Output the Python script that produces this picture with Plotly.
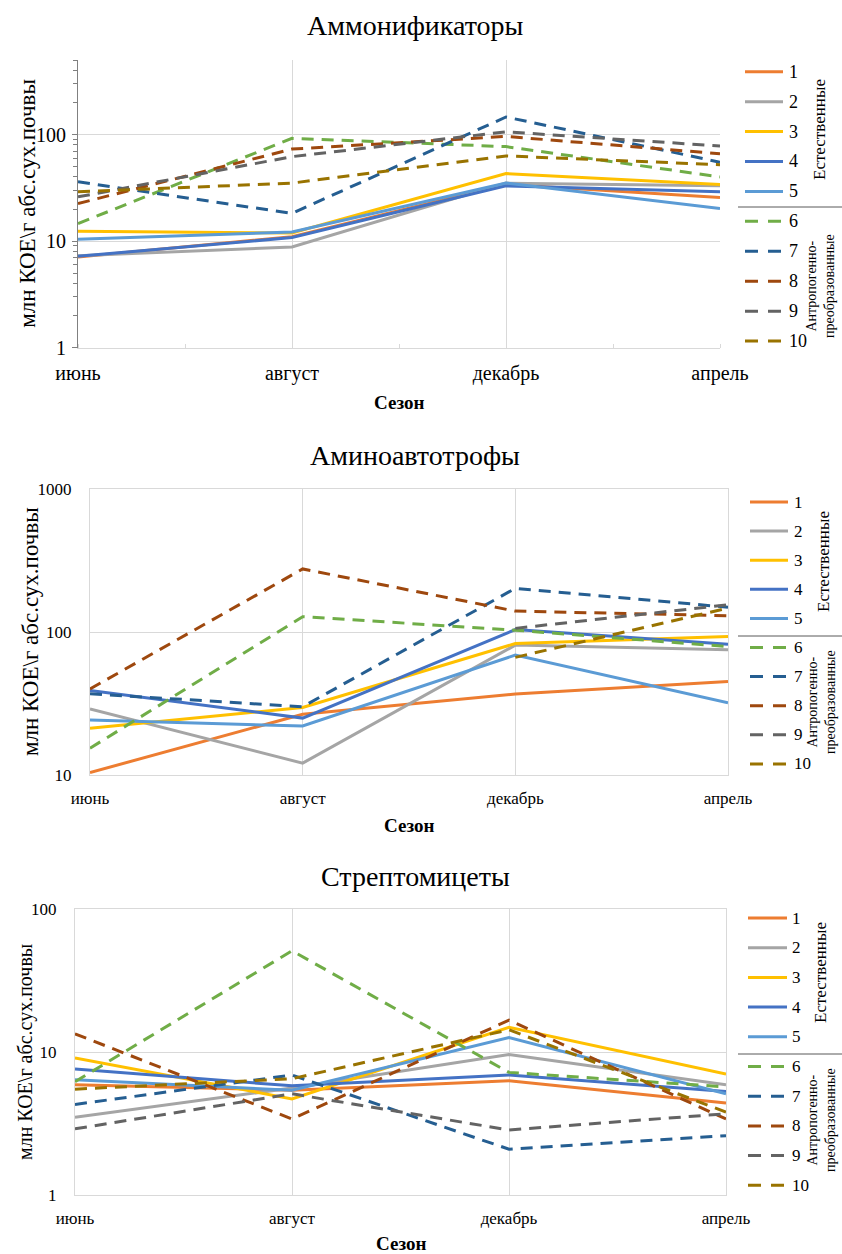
import math
import plotly.graph_objects as go

W, H = 842, 1254
FONT = "Liberation Serif, 'Times New Roman', 'DejaVu Serif', serif"

SEASONS = ["июнь", "август", "декабрь", "апрель"]
SERIES = ["1", "2", "3", "4", "5", "6", "7", "8", "9", "10"]
COLORS = ["#ED7D31", "#A5A5A5", "#FFC000", "#4472C4", "#5B9BD5",
          "#70AD47", "#255E91", "#9E480E", "#636363", "#997300"]
DASHED = [False] * 5 + [True] * 5

# Аммонификаторы, млн КОЕ/г
ammon_1 = [7.1, 11.0, 34, 25.7]
ammon_2 = [7.3, 8.8, 35, 33]
ammon_3 = [12.4, 11.9, 43, 34]
ammon_4 = [7.2, 10.8, 33, 29]
ammon_5 = [10.4, 12.2, 35, 20.2]
ammon_6 = [14.6, 92, 77, 40]
ammon_7 = [36, 18.2, 146, 55]
ammon_8 = [22.5, 73, 96, 66]
ammon_9 = [26, 62, 106, 78]
ammon_10 = [29, 35, 63, 52]

# Аминоавтотрофы
amino_1 = [10.4, 26.6, 36.8, 45]
amino_2 = [29, 12.1, 81, 75]
amino_3 = [21.2, 29.7, 83, 93]
amino_4 = [39, 25, 104, 82]
amino_5 = [24.2, 22, 69, 32]
amino_6 = [15.4, 128, 103, 79]
amino_7 = [37, 30, 202, 149]
amino_8 = [40, 276, 140, 130]
amino_9 = [None, None, 106, 155]
amino_10 = [None, None, 66.5, 147]

# Стрептомицеты
strep_1 = [5.9, 5.4, 6.3, 4.4]
strep_2 = [3.5, 5.6, 9.6, 5.9]
strep_3 = [9.1, 4.7, 14.9, 7.0]
strep_4 = [7.6, 5.8, 6.9, 5.3]
strep_5 = [6.4, 5.4, 12.6, 5.1]
strep_6 = [6.2, 51, 7.2, 5.7]
strep_7 = [4.3, 6.9, 2.09, 2.6]
strep_8 = [13.4, 3.4, 16.7, 3.4]
strep_9 = [2.9, 5.1, 2.85, 3.7]
strep_10 = [5.5, 6.5, 14.3, 3.8]

AMMON = [ammon_1, ammon_2, ammon_3, ammon_4, ammon_5,
         ammon_6, ammon_7, ammon_8, ammon_9, ammon_10]
AMINO = [amino_1, amino_2, amino_3, amino_4, amino_5,
         amino_6, amino_7, amino_8, amino_9, amino_10]
STREP = [strep_1, strep_2, strep_3, strep_4, strep_5,
         strep_6, strep_7, strep_8, strep_9, strep_10]

TITLES = ["Аммонификаторы", "Аминоавтотрофы", "Стрептомицеты"]
Y_TITLE = "млн КОЕ\\г абс.сух.почвы"
X_TITLE = "Сезон"
GROUP_NAT = "Естественные"
GROUP_ANT = "Антропогенно-<br>преобразованные"

DASH = "12px,8px"
GRID = "#D9D9D9"


def px(x):
    return x / W


def py(y):
    return 1 - y / H


# pixel geometry of each panel: left, right, top, bottom
PANELS = [
    dict(l=78, r=720, t=60, b=347.7, yr=[0, math.log10(500)], tickfs=20,
         ytfs=23, ytx=28, title_y=25, xlab_gap=7, xt_y=402,
         leg=dict(y0=71.7, step=29.93, x0=745, x1=783, xt=787, fs=18,
                  sep=207, nat=(819, 130), ant=(820, 286))),
    dict(l=90, r=728, t=489, b=775, yr=[1, 3], tickfs=17,
         ytfs=23, ytx=30, title_y=455, xlab_gap=8, xt_y=825,
         leg=dict(y0=502, step=29.1, x0=750, x1=788, xt=792, fs=17,
                  sep=636, nat=(823, 562), ant=(821, 702))),
    dict(l=75, r=726, t=909, b=1195, yr=[0, 2], tickfs=17,
         ytfs=20, ytx=25, title_y=876, xlab_gap=8, xt_y=1243,
         leg=dict(y0=918, step=29.7, x0=748, x1=787, xt=790, fs=17,
                  sep=1054, nat=(820, 973), ant=(821, 1120))),
]
DATASETS = [AMMON, AMINO, STREP]

fig = go.Figure()
shapes, annotations = [], []
xpos = list(range(len(SEASONS)))

for k, (p, data) in enumerate(zip(PANELS, DATASETS)):
    sfx = "" if k == 0 else str(k + 1)
    for i, vals in enumerate(data):
        fig.add_trace(go.Scatter(
            x=xpos, y=vals, mode="lines", name=SERIES[i], showlegend=False,
            line=dict(color=COLORS[i], width=3,
                      dash=DASH if DASHED[i] else "solid"),
            xaxis="x" + sfx, yaxis="y" + sfx, connectgaps=False,
        ))

    boxed = k > 0
    xa = dict(
        domain=[px(p["l"]), px(p["r"])], anchor="y" + sfx, automargin=False,
        range=[0, 3], tickvals=xpos, ticktext=SEASONS,
        showgrid=True, gridcolor=GRID, gridwidth=1, zeroline=False,
        showline=True, linecolor=GRID, linewidth=1, mirror=boxed,
        ticks="", ticklabelstandoff=p["xlab_gap"],
        tickfont=dict(family=FONT, size=p["tickfs"], color="#000000"),
    )
    if not boxed:
        xa["minor"] = dict(ticks="inside", dtick=0.5, tick0=0, ticklen=4,
                           tickcolor=GRID, showgrid=False)
    ya = dict(
        domain=[py(p["b"]), py(p["t"])], anchor="x" + sfx, type="log",
        automargin=False,
        range=p["yr"], showgrid=True, gridcolor=GRID, gridwidth=1,
        zeroline=False, mirror=boxed,
        tickfont=dict(family=FONT, size=p["tickfs"], color="#000000"),
    )
    if boxed:
        ya.update(tickvals=[1, 10, 100, 1000], ticktext=["1", "10", "100", "1000"],
                  showline=True, linecolor=GRID, linewidth=1, ticks="",
                  ticklabelstandoff=14)
    else:
        ya.update(tickvals=[1, 10, 100], ticktext=["1", "10", "100"],
                  showline=True, linecolor="#808080", linewidth=1,
                  ticks="outside", ticklen=5, tickcolor="#808080",
                  ticklabelstandoff=2,
                  minor=dict(ticks="outside", ticklen=4, tickcolor="#808080",
                             tickvals=[2, 3, 4, 5, 6, 7, 8, 9,
                                       20, 30, 40, 50, 60, 70, 80, 90,
                                       200, 300, 400, 500],
                             showgrid=False))
    fig.update_layout({"xaxis" + sfx: xa, "yaxis" + sfx: ya})

    # chart title, axis titles
    annotations.append(dict(
        text=TITLES[k], x=px(415), y=py(p["title_y"]), xref="paper", yref="paper",
        showarrow=False, xanchor="center", yanchor="middle",
        font=dict(family=FONT, size=28, color="#000000")))
    annotations.append(dict(
        text=Y_TITLE, x=px(p["ytx"]), y=py((p["t"] + p["b"]) / 2),
        xref="paper", yref="paper", showarrow=False, textangle=-90,
        xanchor="center", yanchor="middle",
        font=dict(family=FONT, size=p["ytfs"], color="#000000")))
    annotations.append(dict(
        text="<b>" + X_TITLE + "</b>", x=px((p["l"] + p["r"]) / 2), y=py(p["xt_y"]),
        xref="paper", yref="paper", showarrow=False,
        xanchor="center", yanchor="middle",
        font=dict(family=FONT, size=19, color="#000000")))

    # legend
    lg = p["leg"]
    for i in range(len(SERIES)):
        yy = lg["y0"] + i * lg["step"]
        shapes.append(dict(
            type="line", xref="paper", yref="paper",
            x0=px(lg["x0"]), x1=px(lg["x1"]), y0=py(yy), y1=py(yy),
            line=dict(color=COLORS[i], width=3,
                      dash="13px,10px" if DASHED[i] else "solid")))
        annotations.append(dict(
            text=SERIES[i], x=px(lg["xt"]), y=py(yy), xref="paper", yref="paper",
            showarrow=False, xanchor="left", yanchor="middle",
            font=dict(family=FONT, size=lg["fs"], color="#000000")))
    shapes.append(dict(
        type="line", xref="paper", yref="paper",
        x0=px(738), x1=px(842), y0=py(lg["sep"]), y1=py(lg["sep"]),
        line=dict(color="#595959", width=1)))
    annotations.append(dict(
        text=GROUP_NAT, x=px(lg["nat"][0]), y=py(lg["nat"][1]),
        xref="paper", yref="paper", showarrow=False, textangle=-90,
        xanchor="center", yanchor="middle",
        font=dict(family=FONT, size=17, color="#000000")))
    annotations.append(dict(
        text=GROUP_ANT, x=px(lg["ant"][0]), y=py(lg["ant"][1]),
        xref="paper", yref="paper", showarrow=False, textangle=-90,
        xanchor="center", yanchor="middle",
        font=dict(family=FONT, size=14, color="#000000")))

fig.update_layout(
    template="none",
    width=W, height=H, margin=dict(l=0, r=0, t=0, b=0, autoexpand=False),
    paper_bgcolor="#FFFFFF", plot_bgcolor="#FFFFFF",
    showlegend=False, shapes=shapes, annotations=annotations,
    font=dict(family=FONT, color="#000000"),
)

fig.write_html("out.html")
